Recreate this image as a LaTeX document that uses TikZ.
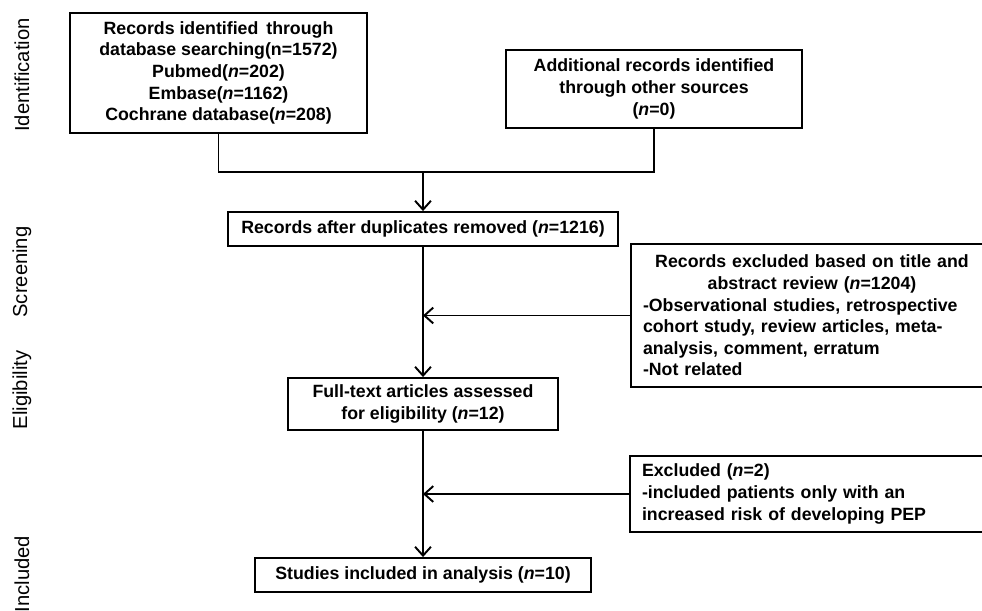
\documentclass[tikz,border=0pt]{standalone}
\usepackage{fontspec}
\setmainfont{Liberation Sans}
\usetikzlibrary{positioning}
\usetikzlibrary{arrows.meta}
\usetikzlibrary{calc}

\begin{document}
\begin{tikzpicture}[x=0.02cm, y=-0.02cm,
	box/.style = {draw, line width=1.1pt, inner sep=0pt, align=center,
		font=\fontsize{10.1}{12.3}\selectfont\bfseries},
	arr/.style = {line width=1.1pt, -{Straight Barb[length=5pt,width=9pt,line width=1.1pt]}},
	stage/.style = {rotate=90, font=\fontsize{11.5}{14}\selectfont}
]
\useasboundingbox (0,0) rectangle (982,610);

\node[box, minimum width=297*0.02cm, minimum height=120*0.02cm] (recdb) at (218.5,73)
	{Records identified\, through\\ database searching(n=1572)\\ Pubmed(\textit{n}=202)\\ Embase(\textit{n}=1162)\\ Cochrane database(\textit{n}=208)};
\node[box, minimum width=296*0.02cm, minimum height=78*0.02cm] (recother) at (654,89)
	{Additional records identified\\ through other sources\\ (\textit{n}=0)};
\node[box, minimum width=390*0.02cm, minimum height=34*0.02cm] (dup) at (423,229)
	{Records after duplicates removed (\textit{n}=1216)};
\node[box, minimum width=362*0.02cm, minimum height=143*0.02cm, text width=338*0.02cm, align=left] (excl) at (812,315.5)
	{\centering Records excluded based on title and\\ abstract review (\textit{n}=1204)\par
	\raggedright -Observational studies, retrospective\\ cohort study, review articles, meta-\\ analysis, comment, erratum\\ -Not related};
\node[box, minimum width=270*0.02cm, minimum height=52*0.02cm] (full) at (423,404)
	{Full-text articles assessed\\ for eligibility (\textit{n}=12)};
\node[box, minimum width=363*0.02cm, minimum height=76*0.02cm, text width=339*0.02cm, align=left] (excl2) at (811.5,494)
	{Excluded (\textit{n}=2)\\ -included patients only with an\\ increased risk of developing PEP};
\node[box, minimum width=336*0.02cm, minimum height=34*0.02cm] (incl) at (423,575)
	{Studies included in analysis (\textit{n}=10)};

\node[stage] (sid) at (22,75) {Identification};
\node[stage] (sscr) at (22,272) {Screening};
\node[stage] (selig) at (22,390) {Eligibility};
\node[stage] (sincl) at (22,574) {Included};

\coordinate (join) at (dup.north |- 0,172);
\draw[line width=1.1pt] (recdb.south) |- (join) -| (recother.south);
\draw[arr] (join) -- (dup.north);
\draw[arr] (dup.south) -- (full.north);
\draw[arr] (excl.west) -- (excl.west -| dup.south);
\draw[arr] (full.south) -- (incl.north);
\draw[arr] (excl2.west) -- (excl2.west -| full.south);
\end{tikzpicture}
\end{document}
